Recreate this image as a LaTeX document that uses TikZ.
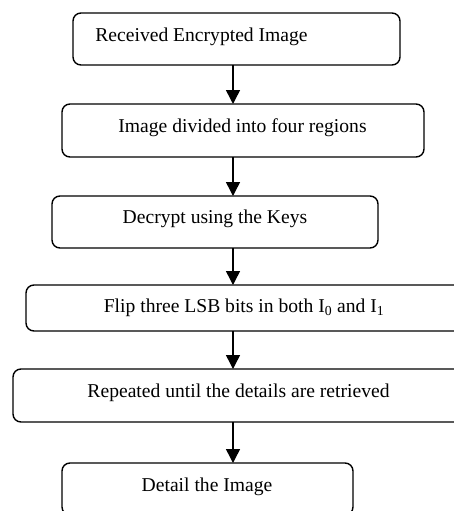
\documentclass[tikz,border=0pt]{standalone}
\usepackage{fontspec}
\setmainfont{Liberation Serif}
\usetikzlibrary{arrows.meta}
\begin{document}
\begin{tikzpicture}[x=1pt,y=-1pt,
  box/.style={draw, line width=1.4pt, rounded corners=8pt, inner sep=0pt, outer sep=0pt},
  lbl/.style={inner sep=0pt, font=\fontsize{19.6}{22}\selectfont},
  flow/.style={line width=1.5pt, -{Triangle[width=14pt,length=14pt]}}]
\useasboundingbox (0,0) rectangle (454,511);
\clip (0,0) rectangle (454,511);
\node[box, minimum width=327pt, minimum height=52pt] (b1) at (236.5,39) {};
\node[box, minimum width=362pt, minimum height=53pt] (b2) at (243,130.5) {};
\node[box, minimum width=326pt, minimum height=52pt] (b3) at (215,222) {};
\node[box, minimum width=444pt, minimum height=46pt] (b4) at (248,308) {};
\node[box, minimum width=462pt, minimum height=53pt] (b5) at (244,395.5) {};
\node[box, minimum width=291pt, minimum height=52pt] (b6) at (207.5,489) {};
\node[lbl] (t1) at (201.5,37) {Received Encrypted Image};
\node[lbl] (t2) at (242.5,128) {Image divided into four regions};
\node[lbl] (t3) at (215,219) {Decrypt using the Keys};
\node[lbl] (t4) at (244,308) {Flip three LSB bits in both I\textsubscript{0} and I\textsubscript{1}};
\node[lbl] (t5) at (238.5,393) {Repeated until the details are retrieved};
\node[lbl] (t6) at (207,487) {Detail the Image};
\coordinate (ax) at (233,0);
\draw[flow] (b1.south -| ax) -- (b2.north -| ax);
\draw[flow] (b2.south -| ax) -- (b3.north -| ax);
\draw[flow] (b3.south -| ax) -- (b4.north -| ax);
\draw[flow] (b4.south -| ax) -- (b5.north -| ax);
\draw[flow] (b5.south -| ax) -- (b6.north -| ax);
\end{tikzpicture}
\end{document}
